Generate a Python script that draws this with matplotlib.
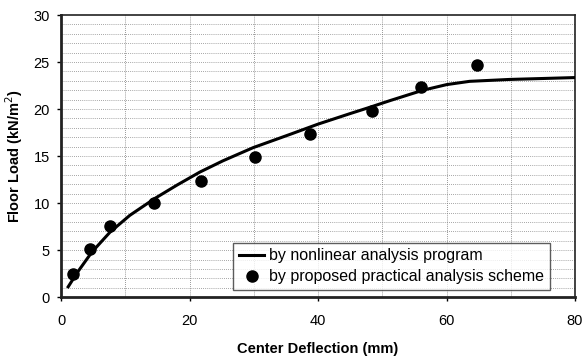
import numpy as np
import matplotlib
matplotlib.use("Agg")
import matplotlib.pyplot as plt

plt.rcParams['font.family'] = ['Liberation Sans', 'DejaVu Sans']

# nonlinear analysis curve
curve_x = [1.1, 2.5, 4.8, 7.6, 10.7, 14.6, 18.0, 21.6, 25.2, 29.9, 35.6, 40.0,
           44.9, 48.1, 51.2, 56.3, 60.0, 63.6, 69.8, 80.0]
curve_y = [1.1, 2.6, 4.8, 6.9, 8.7, 10.5, 11.9, 13.3, 14.5, 15.9, 17.3, 18.4,
           19.5, 20.2, 20.9, 22.0, 22.6, 22.95, 23.15, 23.35]

# practical analysis scheme points
pts_x = [1.9, 4.5, 7.6, 14.5, 21.8, 30.2, 38.7, 48.4, 56.1, 64.7]
pts_y = [2.5, 5.1, 7.55, 10.0, 12.4, 14.9, 17.4, 19.8, 22.3, 24.7]

fig = plt.figure(figsize=(5.82, 3.58), dpi=100)
ax = fig.add_axes([0.105, 0.170, 0.883, 0.788])

# dotted background grid
for yv in np.arange(1, 30, 1):
    ax.axhline(yv, color='#888888', lw=0.6, ls=(0, (1, 1.5)), zorder=0)
for xv in np.arange(10, 80, 10):
    ax.axvline(xv, color='#777777', lw=0.6, ls=(0, (1, 1.5)), zorder=0)

ax.plot(curve_x, curve_y, color='black', lw=2.2, label='by nonlinear analysis program',
        zorder=3, solid_joinstyle='round')
ax.plot(pts_x, pts_y, 'o', color='black', ms=8, label='by proposed practical analysis scheme', zorder=4)

ax.set_xlim(0, 80)
ax.set_ylim(0, 30)
ax.set_xticks([0, 20, 40, 60, 80])
ax.set_yticks([0, 5, 10, 15, 20, 25, 30])
ax.tick_params(labelsize=10.5, length=3, width=1)
ax.tick_params(axis='x', pad=9)
ax.tick_params(axis='y', pad=5)

for s in ax.spines.values():
    s.set_color('#222222')
    s.set_linewidth(1.2)
ax.spines['left'].set_linewidth(2)
ax.spines['bottom'].set_linewidth(2)

ax.set_xlabel('Center Deflection (mm)', fontsize=10.5, fontweight='bold', labelpad=10)
ax.set_ylabel('Floor Load (kN/m$^2$)', fontsize=10.5, fontweight='bold', labelpad=6)

leg = ax.legend(loc='lower right', bbox_to_anchor=(0.951, 0.025), fontsize=11.5,
                frameon=True, fancybox=False, edgecolor='#333333', handlelength=1.6,
                handletextpad=0.3, borderaxespad=0.0, labelspacing=0.4, borderpad=0.35)
leg.get_frame().set_linewidth(1.0)

fig.savefig('out.png', dpi=100)
